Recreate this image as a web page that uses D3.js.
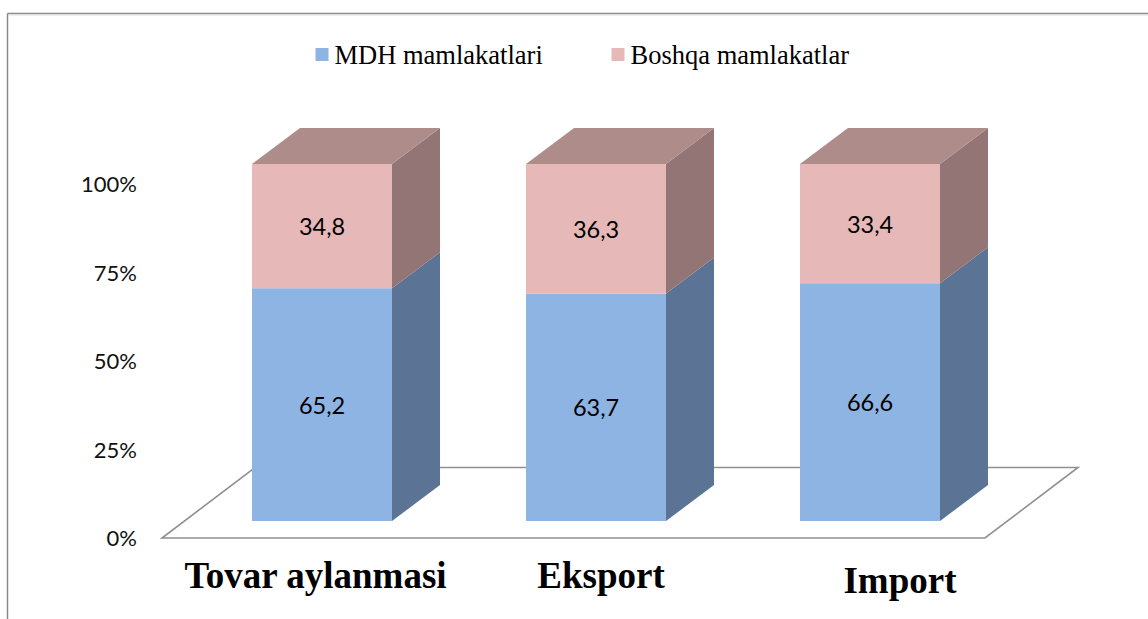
<!DOCTYPE html>
<html>
<head>
<meta charset="utf-8">
<script src="https://cdn.jsdelivr.net/npm/d3@7"></script>
<style>
  html, body { margin: 0; padding: 0; background: #fff; }
  svg { display: block; }
</style>
</head>
<body>
<svg id="chart" width="1148" height="619"></svg>
<script>
// Trade structure by partner group, percent of total
const categories = ["Tovar aylanmasi", "Eksport", "Import"];
const mdhValues = [65.2, 63.7, 66.6];
const otherValues = [34.8, 36.3, 33.4];
const seriesNames = ["MDH mamlakatlari", "Boshqa mamlakatlar"];
const tickValues = [0, 25, 50, 75, 100];

const svg = d3.select("#chart");

// Outer frame (top and left edges visible)
svg.append("line").attr("x1", 7.5).attr("y1", 13.5).attr("x2", 1148).attr("y2", 13.5)
  .attr("stroke", "#8a8a8a").attr("stroke-width", 1.5);
svg.append("line").attr("x1", 7.5).attr("y1", 13.5).attr("x2", 7.5).attr("y2", 619)
  .attr("stroke", "#8a8a8a").attr("stroke-width", 1.5);
svg.append("line").attr("x1", 9).attr("y1", 15).attr("x2", 1148).attr("y2", 15)
  .attr("stroke", "#dedede").attr("stroke-width", 1);

// Oblique 3D projection offsets
const barDepth = { dx: 48, dy: -36 };
const floorDepth = { dx: 93, dy: -70.5 };

// Scales
const x = d3.scaleBand()
  .domain(categories)
  .range([185, 1007])
  .paddingInner(0.489)
  .paddingOuter(0.2445);

const yBar = d3.scaleLinear().domain([0, 100]).range([521, 164]);
const yAxisScale = d3.scaleLinear().domain([0, 100]).range([538.5, 184.5]);

// Floor
const floorFront = { x0: 162, x1: 985, y: 538 };
const floorPts = [
  [floorFront.x0, floorFront.y],
  [floorFront.x1, floorFront.y],
  [floorFront.x1 + floorDepth.dx, floorFront.y + floorDepth.dy],
  [floorFront.x0 + floorDepth.dx, floorFront.y + floorDepth.dy]
];
svg.append("polygon")
  .attr("points", floorPts.map(p => p.join(",")).join(" "))
  .attr("fill", "#fff")
  .attr("stroke", "#909090")
  .attr("stroke-width", 1.6)
  .attr("stroke-linejoin", "miter");

// Y axis labels
const yAxis = d3.axisLeft(yAxisScale)
  .tickValues(tickValues)
  .tickSize(0)
  .tickPadding(0)
  .tickFormat(d => d + "%");
const axisG = svg.append("g").attr("transform", "translate(137,0)").call(yAxis);
axisG.select(".domain").remove();
axisG.selectAll("text")
  .attr("font-family", "Lato, 'Open Sans', sans-serif")
  .attr("font-size", 22)
  .attr("fill", "#111");

// Stacked data
const rows = categories.map((c, i) => ({ cat: c, mdh: mdhValues[i], other: otherValues[i] }));
const stack = d3.stack().keys(["mdh", "other"]);
const stacked = stack(rows);

const colors = {
  mdh:   { front: "#8EB4E3", side: "#5B7394", top: "#7C9CC6" },
  other: { front: "#E6B9B8", side: "#927574", top: "#AD8C8A" }
};

const poly = pts => pts.map(p => p.join(",")).join(" ");

const barsG = svg.append("g");
stacked.forEach((layer, li) => {
  const key = layer.key;
  layer.forEach(seg => {
    const cat = seg.data.cat;
    const x0 = x(cat), x1 = x(cat) + x.bandwidth();
    const yTop = yBar(seg[1]), yBot = yBar(seg[0]);
    const g = barsG.append("g");
    // right side face
    g.append("polygon")
      .attr("points", poly([[x1, yBot], [x1 + barDepth.dx, yBot + barDepth.dy],
                            [x1 + barDepth.dx, yTop + barDepth.dy], [x1, yTop]]))
      .attr("fill", colors[key].side);
    // front face
    g.append("rect")
      .attr("x", x0).attr("y", yTop)
      .attr("width", x.bandwidth()).attr("height", yBot - yTop)
      .attr("fill", colors[key].front);
    // top face only on the uppermost segment
    if (li === stacked.length - 1) {
      g.append("polygon")
        .attr("points", poly([[x0, yTop], [x1, yTop],
                              [x1 + barDepth.dx, yTop + barDepth.dy], [x0 + barDepth.dx, yTop + barDepth.dy]]))
        .attr("fill", colors[key].top);
    }
    // value label
    g.append("text")
      .attr("x", (x0 + x1) / 2)
      .attr("y", (yTop + yBot) / 2)
      .attr("text-anchor", "middle")
      .attr("dominant-baseline", "central")
      .attr("font-family", "Lato, 'Open Sans', sans-serif")
      .attr("font-size", 23.5)
      .attr("fill", "#000")
      .text(d3.format(".1f")(seg[1] - seg[0]).replace(".", ","));
  });
});

// Category labels under the floor
const labelNudge = { "Tovar aylanmasi": [-6.5, 0], "Eksport": [5, 0], "Import": [30, 5] };
svg.append("g").selectAll("text")
  .data(categories)
  .join("text")
  .attr("x", d => x(d) + x.bandwidth() / 2 + labelNudge[d][0])
  .attr("y", d => 588 + labelNudge[d][1])
  .attr("text-anchor", "middle")
  .attr("font-family", "'Liberation Serif', 'Times New Roman', serif")
  .attr("font-weight", "bold")
  .attr("font-size", 37)
  .attr("fill", "#000")
  .text(d => d);

// Legend
const legendItems = [
  { name: seriesNames[0], color: colors.mdh.front, x: 315.5 },
  { name: seriesNames[1], color: colors.other.front, x: 611.5 }
];
const legend = svg.append("g");
legendItems.forEach(item => {
  legend.append("rect")
    .attr("x", item.x).attr("y", 48)
    .attr("width", 13).attr("height", 13)
    .attr("fill", item.color);
  legend.append("text")
    .attr("x", item.x + 19).attr("y", 64)
    .attr("font-family", "'Liberation Serif', 'Times New Roman', serif")
    .attr("font-size", 26.5)
    .attr("fill", "#000")
    .text(item.name);
});
</script>
</body>
</html>
